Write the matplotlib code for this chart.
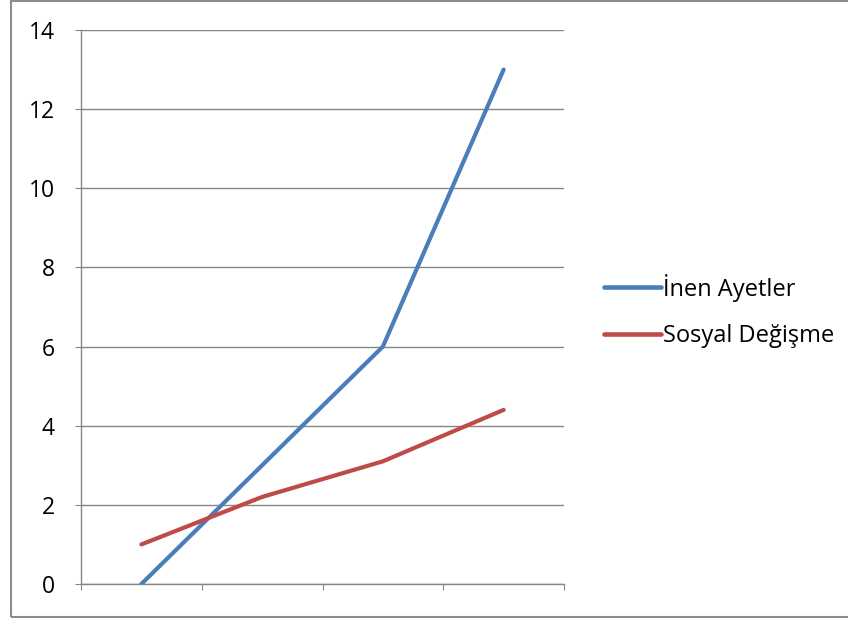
import matplotlib.pyplot as plt
from matplotlib.patches import Rectangle

categories = ["1", "2", "3", "4"]
inen_ayetler = [0, 3, 6, 13]
sosyal_degisme = [1, 2.2, 3.1, 4.4]
series_names = ["İnen Ayetler", "Sosyal Değişme"]
y_ticks = [0, 2, 4, 6, 8, 10, 12, 14]

plt.rcParams['font.family'] = ['Open Sans', 'DejaVu Sans']

fig = plt.figure(figsize=(8.48, 6.21), dpi=100)
ax = fig.add_axes([81 / 848, 37 / 621, 483 / 848, 554 / 621])

grid_color = "#868686"
x = [i + 0.5 for i in range(len(categories))]
ax.plot(x, inen_ayetler, color="#4A7EBB", lw=3, solid_capstyle="round",
        solid_joinstyle="round", label=series_names[0], zorder=3)
ax.plot(x, sosyal_degisme, color="#BE4B48", lw=3, solid_capstyle="round",
        solid_joinstyle="round", label=series_names[1], zorder=3)

ax.set_xlim(0, len(categories))
ax.set_ylim(0, 14)
ax.set_yticks(y_ticks)
ax.set_xticks(range(len(categories) + 1))
ax.set_xticklabels([])
ax.yaxis.grid(True, color=grid_color, lw=1)
ax.set_axisbelow(True)
for side in ("top", "right"):
    ax.spines[side].set_visible(False)
for side in ("left", "bottom"):
    ax.spines[side].set_color(grid_color)
    ax.spines[side].set_linewidth(1)
ax.tick_params(axis="y", length=4.3, color=grid_color, pad=14.5, labelsize=16.5)
ax.tick_params(axis="x", length=4.3, color=grid_color)

leg = ax.legend(loc="center left", bbox_to_anchor=(604 / 848, 310 / 621),
                bbox_transform=fig.transFigure, frameon=False, fontsize=17,
                handlelength=2.4, handletextpad=0.08, labelspacing=0.97,
                borderaxespad=0, borderpad=0)
for line in leg.get_lines():
    line.set_linewidth(3.3)

fig.patches.append(Rectangle((11 / 848, 4 / 621), 1.0, 616 / 621,
                             transform=fig.transFigure, fill=False,
                             edgecolor="#8c8c8c", lw=1.5))

fig.savefig("out.png", dpi=100)
